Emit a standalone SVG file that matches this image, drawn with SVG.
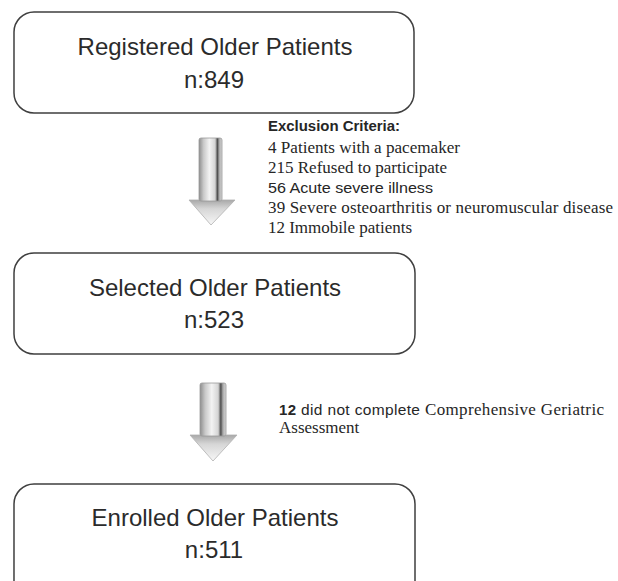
<svg xmlns="http://www.w3.org/2000/svg" width="618" height="581" viewBox="0 0 618 581">
<style>
.box{fill:#ffffff;stroke:#3f3f3f;stroke-width:1.5}
.title{font-family:"Liberation Sans",Arial,sans-serif;font-size:24px;fill:#2b2b2b;text-anchor:middle}
.serif{font-family:"Liberation Serif","Times New Roman",serif;font-size:17px;fill:#262626}
.sans{font-family:"Liberation Sans",Arial,sans-serif;font-size:15.5px;fill:#262626}
.bold{font-family:"Liberation Sans",Arial,sans-serif;font-size:14px;font-weight:bold;fill:#262626}
.shaft{fill:url(#gShaft);stroke:#9a9a9a;stroke-width:0.8}
.head{fill:url(#gHead);stroke:#b0b0b0;stroke-width:0.8}
</style>
<defs>
<linearGradient id="gShaft" x1="0" y1="0" x2="1" y2="0">
<stop offset="0" stop-color="#8e8e8e"/>
<stop offset="0.2" stop-color="#c9c9c9"/>
<stop offset="0.45" stop-color="#f3f3f3"/>
<stop offset="0.7" stop-color="#d4d4d4"/>
<stop offset="0.8" stop-color="#4d4d4d"/>
<stop offset="0.88" stop-color="#a9a9a9"/>
<stop offset="1" stop-color="#d9d9d9"/>
</linearGradient>
<linearGradient id="gHead" x1="0" y1="0" x2="0" y2="1">
<stop offset="0" stop-color="#a8a8a8"/>
<stop offset="0.35" stop-color="#d6d6d6"/>
<stop offset="1" stop-color="#f7f7f7"/>
</linearGradient>
</defs>

<g id="connectors">
<g id="arrow1">
<path class="head" d="M189,200 L235,200 L211,225 Z"/>
<rect class="shaft" x="199" y="138" width="23" height="63" rx="2"/>
</g>
<g id="arrow2">
<path class="head" d="M190,435 L237,435 L213,461 Z"/>
<rect class="shaft" x="200" y="383" width="26" height="53" rx="2"/>
</g>
</g>

<g id="node-registered">
<rect class="box" x="14" y="12" width="400" height="101" rx="20"/>
<text class="title" x="215" y="55">Registered Older Patients</text>
<text class="title" x="214" y="88">n:849</text>
</g>

<g id="node-selected">
<rect class="box" x="14" y="253" width="401" height="101" rx="20"/>
<text class="title" x="215" y="296">Selected Older Patients</text>
<text class="title" x="214" y="328">n:523</text>
</g>

<g id="node-enrolled">
<rect class="box" x="14" y="484" width="401" height="130" rx="20"/>
<text class="title" x="215" y="526">Enrolled Older Patients</text>
<text class="title" x="214" y="558">n:511</text>
</g>

<g id="exclusion-criteria">
<text class="bold" x="268" y="131" textLength="132" lengthAdjust="spacingAndGlyphs">Exclusion Criteria:</text>
<text class="serif" x="268" y="153" textLength="192" lengthAdjust="spacingAndGlyphs">4 Patients with a pacemaker</text>
<text class="serif" x="268" y="173" textLength="179" lengthAdjust="spacingAndGlyphs">215 Refused to participate</text>
<text class="sans" x="268" y="193" textLength="165" lengthAdjust="spacingAndGlyphs">56 Acute severe illness</text>
<text class="serif" x="268" y="213" textLength="345" lengthAdjust="spacing">39 Severe osteoarthritis or neuromuscular disease</text>
<text class="serif" x="268" y="233" textLength="144" lengthAdjust="spacing">12 Immobile patients</text>
</g>

<g id="cga-note">
<text x="279" y="415" textLength="325" lengthAdjust="spacing"><tspan class="bold" style="font-size:15px">12</tspan><tspan class="sans"> did not complete </tspan><tspan class="serif">Comprehensive Geriatric</tspan></text>
<text class="serif" x="279" y="433">Assessment</text>
</g>
</svg>
